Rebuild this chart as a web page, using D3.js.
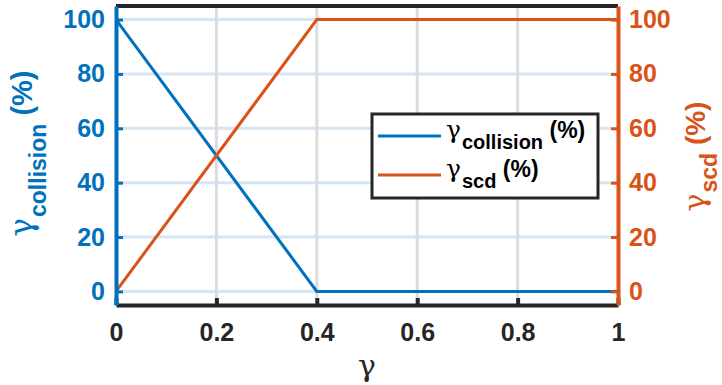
<!DOCTYPE html>
<html>
<head>
<meta charset="utf-8">
<script src="https://cdn.jsdelivr.net/npm/d3@7"></script>
<style>
  body { margin: 0; background: #fff; }
  svg { display: block; font-family: "Liberation Sans", Arial, sans-serif; }
</style>
</head>
<body>
<div id="chart"></div>
<script>
'use strict';

// data
let gammaValues = [0, 0.4, 1];
let collisionPct = [100, 0, 0];
let scdPct = [0, 100, 100];
let xTicks = [0, 0.2, 0.4, 0.6, 0.8, 1];
let yTicks = [0, 20, 40, 60, 80, 100];

let blue = '#0072bd';
let orange = '#d95319';
let dark = '#262626';
let greekFont = '"DejaVu Serif", serif';

let width = 722, height = 385;
let margin = {left: 116, right: 104, top: 6, bottom: 80};

let svg = d3.select('#chart').append('svg')
    .attr('width', width)
    .attr('height', height);

let x = d3.scaleLinear().domain([0, 1]).range([margin.left, width - margin.right]);
let y = d3.scaleLinear().domain([-5, 105]).range([height - margin.bottom, margin.top]);

let x0 = x.range()[0], x1 = x.range()[1];
let yB = y.range()[0], yT = y.range()[1];

// grid lines
let grid = svg.append('g');
grid.selectAll('line.hgrid')
    .data(yTicks)
    .join('line')
    .attr('class', 'hgrid')
    .attr('x1', x0).attr('x2', x1)
    .attr('y1', d => y(d)).attr('y2', d => y(d))
    .attr('stroke', '#d5e5f3')
    .attr('stroke-width', 3);

grid.selectAll('line.vgrid')
    .data(xTicks.slice(1, -1))
    .join('line')
    .attr('class', 'vgrid')
    .attr('x1', d => x(d)).attr('x2', d => x(d))
    .attr('y1', yT).attr('y2', yB)
    .attr('stroke', '#dcdcdc')
    .attr('stroke-width', 3);

// data lines
let line = d3.line()
    .x((d, i) => x(gammaValues[i]))
    .y(d => y(d));

svg.append('path')
    .datum(collisionPct)
    .attr('d', line)
    .attr('fill', 'none')
    .attr('stroke', blue)
    .attr('stroke-width', 3);

svg.append('path')
    .datum(scdPct)
    .attr('d', line)
    .attr('fill', 'none')
    .attr('stroke', orange)
    .attr('stroke-width', 3);

// box top
svg.append('line')
    .attr('x1', x0).attr('x2', x1).attr('y1', yT).attr('y2', yT)
    .attr('stroke', dark).attr('stroke-width', 4);

function styleTicks(g, color) {
    g.selectAll('.tick text')
        .attr('fill', color)
        .attr('font-size', 25)
        .attr('font-weight', 'bold')
        .attr('font-family', '"Liberation Sans", Arial, sans-serif');
}

// bottom axis
let xAxis = d3.axisBottom(x)
    .tickValues(xTicks)
    .tickFormat(d => d3.format('~g')(d))
    .tickSizeInner(-7)
    .tickSizeOuter(0)
    .tickPadding(18);

let gX = svg.append('g')
    .attr('transform', 'translate(0,' + yB + ')')
    .call(xAxis);
gX.select('.domain').attr('stroke', dark).attr('stroke-width', 4);
gX.selectAll('.tick line').attr('stroke', dark).attr('stroke-width', 4);
styleTicks(gX, dark);

// left axis
let yAxisL = d3.axisLeft(y)
    .tickValues(yTicks)
    .tickSizeInner(-7)
    .tickSizeOuter(0)
    .tickPadding(11);

let gL = svg.append('g')
    .attr('transform', 'translate(' + x0 + ',0)')
    .call(yAxisL);
gL.select('.domain').attr('stroke', blue).attr('stroke-width', 4);
gL.selectAll('.tick line').attr('stroke', blue).attr('stroke-width', 3);
styleTicks(gL, blue);

// right axis
let yAxisR = d3.axisRight(y)
    .tickValues(yTicks)
    .tickSizeInner(-7)
    .tickSizeOuter(0)
    .tickPadding(11);

let gR = svg.append('g')
    .attr('transform', 'translate(' + x1 + ',0)')
    .call(yAxisR);
gR.select('.domain').attr('stroke', orange).attr('stroke-width', 4);
gR.selectAll('.tick line').attr('stroke', orange).attr('stroke-width', 3);
styleTicks(gR, orange);

// gamma label with subscript and (%)
function gammaLabel(sel, sub, big, small, drop) {
    sel.append('tspan')
        .attr('font-family', greekFont)
        .attr('font-weight', 'normal')
        .attr('font-size', big + 2)
        .text('γ');
    sel.append('tspan').attr('font-weight', 'bold').attr('font-size', small)
        .attr('dx', 1)
        .attr('dy', drop).text(sub);
    sel.append('tspan').attr('font-weight', 'bold').attr('font-size', big)
        .attr('dy', -drop).text(' (%)');
}

let yMid = (yT + yB) / 2;

svg.append('text')
    .attr('transform', 'translate(32,' + (yMid - 2) + ') rotate(-90)')
    .attr('text-anchor', 'middle')
    .attr('fill', blue)
    .call(gammaLabel, 'collision', 29, 23, 14);

svg.append('text')
    .attr('transform', 'translate(705,' + (yMid + 1) + ') rotate(-90)')
    .attr('text-anchor', 'middle')
    .attr('fill', orange)
    .call(gammaLabel, 'scd', 28, 23, 12);

// x label
svg.append('text')
    .attr('x', (x0 + x1) / 2)
    .attr('y', 376)
    .attr('text-anchor', 'middle')
    .attr('fill', dark)
    .attr('font-family', greekFont)
    .attr('font-size', 30)
    .text('γ');

// legend
let legend = svg.append('g').attr('transform', 'translate(372,114)');
legend.append('rect')
    .attr('width', 226).attr('height', 84)
    .attr('fill', '#fff')
    .attr('stroke', dark)
    .attr('stroke-width', 3);

let legendItems = [
    {sub: 'collision', color: blue, y: 22},
    {sub: 'scd', color: orange, y: 61}
];

let item = legend.selectAll('g.item')
    .data(legendItems)
    .join('g')
    .attr('class', 'item')
    .attr('transform', d => 'translate(0,' + d.y + ')');

item.append('line')
    .attr('x1', 6).attr('x2', 69)
    .attr('stroke', d => d.color)
    .attr('stroke-width', 3);

item.append('text')
    .attr('x', 74)
    .attr('y', 2)
    .attr('fill', '#000')
    .each(function(d) {
        d3.select(this).call(gammaLabel, d.sub, 23, 20, 11);
    });
</script>
</body>
</html>
